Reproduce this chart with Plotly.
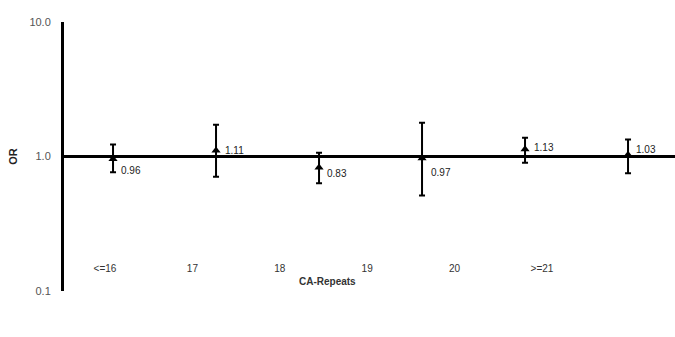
import math
import plotly.graph_objects as go

categories = ["<=16", "17", "18", "19", "20", ">=21"]
or_values = [0.96, 1.11, 0.83, 0.97, 1.13, 1.03]
ci_upper = [1.23, 1.72, 1.065, 1.78, 1.38, 1.34]
ci_lower = [0.764, 0.706, 0.633, 0.513, 0.90, 0.75]
labels = ["0.96", "1.11", "0.83", "0.97", "1.13", "1.03"]
label_shift = [(6, -12), (7, 0), (6, -6), (7, -14), (7, 2), (6, 5)]

FONT = "Liberation Sans, Arial, sans-serif"

fig = go.Figure()

fig.add_trace(go.Scatter(
    x=list(range(len(categories))), y=or_values,
    mode="markers",
    marker=dict(symbol="triangle-up", size=8, color="black"),
    error_y=dict(type="data", symmetric=False,
                 array=[u - v for u, v in zip(ci_upper, or_values)],
                 arrayminus=[v - l for v, l in zip(or_values, ci_lower)],
                 color="black", thickness=2, width=3),
    hoverinfo="skip", showlegend=False,
))

# invisible trace to anchor the category label axis
fig.add_trace(go.Scatter(
    x=categories, y=or_values, xaxis="x2", yaxis="y",
    mode="markers", marker=dict(opacity=0), hoverinfo="skip", showlegend=False,
))

for i, (v, t, (dx, dy)) in enumerate(zip(or_values, labels, label_shift)):
    fig.add_annotation(x=i, y=math.log10(v), text=t, showarrow=False,
                       xanchor="left", yanchor="middle", xshift=dx, yshift=dy,
                       font=dict(family=FONT, size=10, color="#222"))

fig.add_annotation(text="<b>CA-Repeats</b>", xref="paper", yref="paper",
                   x=0.432, y=0.037, xanchor="center", yanchor="middle",
                   showarrow=False, font=dict(family=FONT, size=10, color="#333"))

fig.add_shape(type="line", xref="paper", x0=0, x1=1, yref="y", y0=1, y1=1,
              line=dict(color="black", width=3))

fig.update_layout(
    width=675, height=337,
    margin=dict(l=64, r=0, t=22, b=46, autoexpand=False),
    paper_bgcolor="white", plot_bgcolor="white",
    font=dict(family=FONT, size=10, color="#444"),
    xaxis=dict(range=[-0.476, 5.456], showticklabels=False, showgrid=False,
               zeroline=False, showline=False, ticks=""),
    xaxis2=dict(type="category", categoryorder="array", categoryarray=categories,
                range=[-0.469, 6.522], anchor="free", position=0.12,
                overlaying="x", side="bottom", showgrid=False, zeroline=False,
                showline=False, ticks="", ticklabelstandoff=2,
                tickfont=dict(family=FONT, size=10, color="#333")),
    yaxis=dict(type="log", range=[-1, 1], tickvals=[0.1, 1, 10],
               ticktext=["0.1", "1.0", "10.0"], showgrid=False, zeroline=False,
               showline=True, linecolor="black", linewidth=3, ticks="",
               ticklabelstandoff=8,
               tickfont=dict(family=FONT, size=11, color="#555"),
               title=dict(text="<b>OR</b>", standoff=10,
                          font=dict(family=FONT, size=11, color="#222"))),
)

fig.write_html("out.html", config={"displayModeBar": False},
               post_script="document.body.style.margin='0';document.body.style.overflow='hidden';")
